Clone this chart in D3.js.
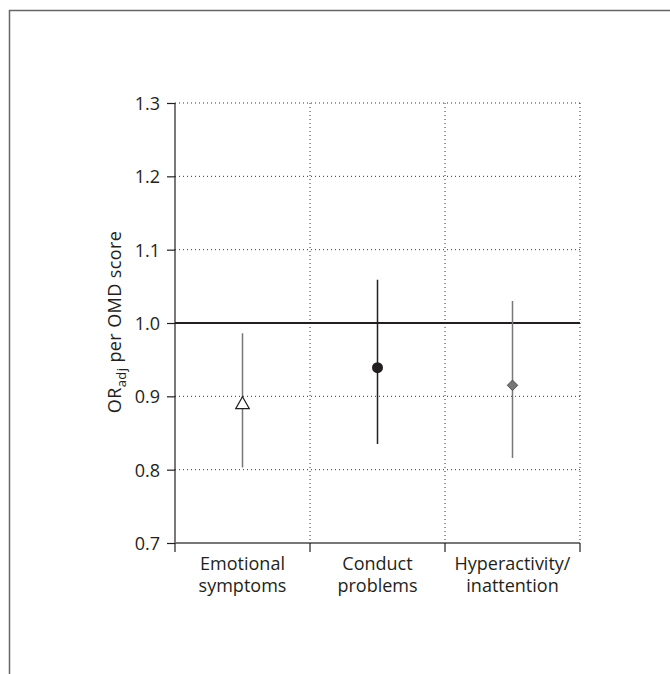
<!DOCTYPE html>
<html><head><meta charset="utf-8">
<script src="https://cdn.jsdelivr.net/npm/d3@7"></script>
<style>body{margin:0;background:#fff}svg{display:block}text{font-family:"Open Sans",sans-serif;fill:#231f20}</style>
</head><body><svg id="c" width="670" height="674"></svg>
<script>
const categories = [["Emotional","symptoms"],["Conduct","problems"],["Hyperactivity/","inattention"]];
const estimates = [0.89, 0.939, 0.915];
const lowerCI = [0.803, 0.835, 0.816];
const upperCI = [0.986, 1.059, 1.030];
const markers = ["triangle","circle","diamond"];
const yTicks = [0.7,0.8,0.9,1.0,1.1,1.2,1.3];

const svg = d3.select("#c");
// frame
svg.append("path").attr("d","M9.5,674 V10.5 H670").attr("fill","none").attr("stroke","#666").attr("stroke-width",1.5);

const x = d3.scaleBand().domain(d3.range(categories.length)).range([175,580]).padding(0);
const y = d3.scaleLinear().domain([0.7,1.3]).range([543,103]);

const g = svg.append("g");
g.selectAll(".hg").data(yTicks.filter(t=>t>0.7 && Math.abs(t-1)>1e-9)).enter().append("line")
  .attr("x1",175).attr("x2",580).attr("y1",d=>y(d)).attr("y2",d=>y(d))
  .attr("stroke","#333").attr("stroke-width",1).attr("stroke-dasharray","1,3");
const bounds = categories.map((c,i)=>x(i)+x.bandwidth());
g.selectAll(".vg").data(bounds).enter().append("line")
  .attr("x1",d=>d).attr("x2",d=>d).attr("y1",y(1.3)).attr("y2",y(0.7))
  .attr("stroke","#333").attr("stroke-width",1).attr("stroke-dasharray","1,3");
g.append("line").attr("x1",175).attr("x2",580).attr("y1",y(1)).attr("y2",y(1))
  .attr("stroke","#231f20").attr("stroke-width",2);

// y axis
const ya = svg.append("g").attr("transform","translate(175,0)")
  .call(d3.axisLeft(y).tickValues(yTicks).tickFormat(d3.format(".1f")).tickSize(8).tickPadding(7));
ya.attr("font-size",null).attr("font-family",null);
ya.select(".domain").attr("stroke","#231f20").attr("stroke-width",1.2).attr("d","M0,"+y(1.3)+"V"+y(0.7));
ya.selectAll(".tick line").attr("stroke","#231f20").attr("stroke-width",1.2);
ya.selectAll("text").style("font-size","18px").attr("fill","#231f20").attr("dy","0.36em");

// x axis
const xa = svg.append("g").attr("transform","translate(0,"+y(0.7)+")");
xa.append("line").attr("x1",175).attr("x2",580).attr("stroke","#777").attr("stroke-width",2);
xa.selectAll(".xt").data([175].concat(bounds)).enter().append("line")
  .attr("x1",d=>d).attr("x2",d=>d).attr("y1",0).attr("y2",9).attr("stroke","#231f20").attr("stroke-width",1.2);
const xl = xa.selectAll(".xl").data(categories).enter().append("text")
  .attr("x",(d,i)=>x(i)+x.bandwidth()/2).attr("y",27).attr("text-anchor","middle").style("font-size","18px");
xl.selectAll("tspan").data(d=>d).enter().append("tspan")
  .attr("x",function(){return this.parentNode.getAttribute("x");}).attr("dy",(d,i)=>i?22:0).text(d=>d);

// y label
const yl = svg.append("text").attr("transform","translate(121,322) rotate(-90)").attr("text-anchor","middle")
  .style("font-size","18px").style("letter-spacing","0.4px");
yl.append("tspan").text("OR");
yl.append("tspan").style("font-size","13px").attr("dy",5).text("adj");
yl.append("tspan").attr("dy",-5).text(" per OMD score");

// CIs and markers
const cols = {triangle:"#777", circle:"#231f20", diamond:"#777"};
const cx = i=>x(i)+x.bandwidth()/2;
svg.selectAll(".ci").data(estimates).enter().append("line")
  .attr("x1",(d,i)=>cx(i)).attr("x2",(d,i)=>cx(i))
  .attr("y1",(d,i)=>y(upperCI[i])).attr("y2",(d,i)=>y(lowerCI[i]))
  .attr("stroke",(d,i)=>cols[markers[i]]).attr("stroke-width",1.5);
estimates.forEach((v,i)=>{
  const m = markers[i];
  if(m==="triangle"){
    svg.append("path").attr("d",d3.symbol(d3.symbolTriangle,80)())
      .attr("transform","translate("+cx(i)+","+(y(v)+1)+")")
      .attr("fill","#fff").attr("stroke","#231f20").attr("stroke-width",1.2);
  } else if(m==="circle"){
    svg.append("circle").attr("cx",cx(i)).attr("cy",y(v)).attr("r",5.5).attr("fill","#231f20");
  } else {
    svg.append("path").attr("d",d3.symbol(d3.symbolSquare,56)())
      .attr("transform","translate("+cx(i)+","+y(v)+") rotate(45)")
      .attr("fill","#777").attr("stroke","#444").attr("stroke-width",0.8);
  }
});
</script></body></html>
